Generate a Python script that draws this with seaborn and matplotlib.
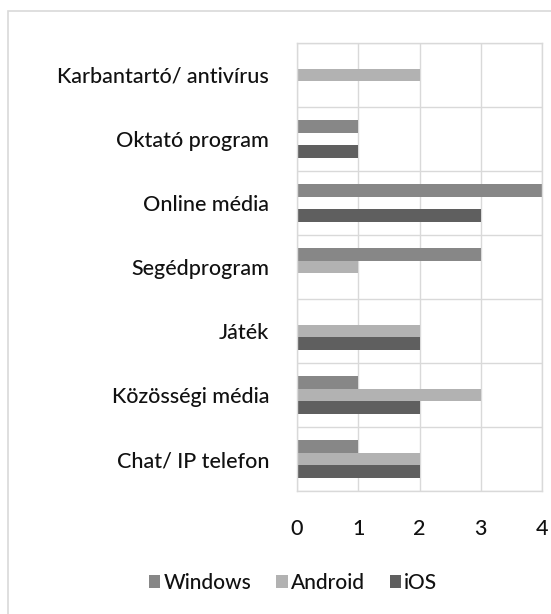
import seaborn as sns
import matplotlib.pyplot as plt
import pandas as pd
from matplotlib.patches import Rectangle

# Adatok
categories = ['Karbantartó/ antivírus', 'Oktató program', 'Online média',
              'Segédprogram', 'Játék', 'Közösségi média', 'Chat/ IP telefon']
windows = [0, 1, 4, 3, 0, 1, 1]
android = [2, 0, 0, 1, 2, 3, 2]
ios = [0, 1, 3, 0, 2, 2, 2]
series = ['Windows', 'Android', 'iOS']
colors = ['#878787', '#b2b2b2', '#5f5f5f']

df = pd.DataFrame({'kategoria': categories, 'Windows': windows,
                   'Android': android, 'iOS': ios})
df = df.melt(id_vars='kategoria', var_name='rendszer', value_name='db')

sns.set_style('white')
plt.rcParams['font.family'] = ['Lato', 'DejaVu Sans']

fig = plt.figure(figsize=(5.51, 6.14), dpi=100)
ax = fig.add_axes([0.539, 0.2003, 0.4447, 0.7297])

sns.barplot(data=df, y='kategoria', x='db', hue='rendszer', order=categories,
            hue_order=series, palette=colors, width=0.6, orient='h',
            linewidth=0, saturation=1, ax=ax)

ax.set_xlim(0, 4)
ax.set_ylim(6.5, -0.5)
ax.set_xticks([0, 1, 2, 3, 4])
ax.set_yticks(range(len(categories)))
ax.set_yticks([i - 0.5 for i in range(len(categories) + 1)], minor=True)
ax.grid(True, axis='x', color='#d9d9d9', linewidth=1)
ax.grid(True, axis='y', which='minor', color='#d9d9d9', linewidth=1)
ax.set_axisbelow(True)
for s in ax.spines.values():
    s.set_color('#d9d9d9')
    s.set_linewidth(1)
ax.tick_params(axis='both', which='both', length=0, labelsize=15.5,
               colors='#111111')
ax.tick_params(axis='x', pad=20)
ax.tick_params(axis='y', pad=20)
for t in ax.get_xticklabels() + ax.get_yticklabels():
    t.set_fontweight('medium')
ax.set_xlabel('')
ax.set_ylabel('')

ax.legend_.remove()
handles, labels = ax.get_legend_handles_labels()
fig.legend(handles, labels, loc='center', bbox_to_anchor=(0.532, 0.0505),
           ncol=3, frameon=False, prop={'size': 15, 'weight': 'medium'},
           handlelength=0.55, handleheight=0.55, handletextpad=0.15,
           columnspacing=1.2, labelcolor='#111111')

# keret
fig.patches.append(Rectangle((8 / 551, -0.01), 1.0, 1 - 11 / 614 + 0.01,
                             transform=fig.transFigure, fill=False,
                             edgecolor='#d9d9d9', linewidth=1.2))

plt.savefig('out.png', dpi=100)
